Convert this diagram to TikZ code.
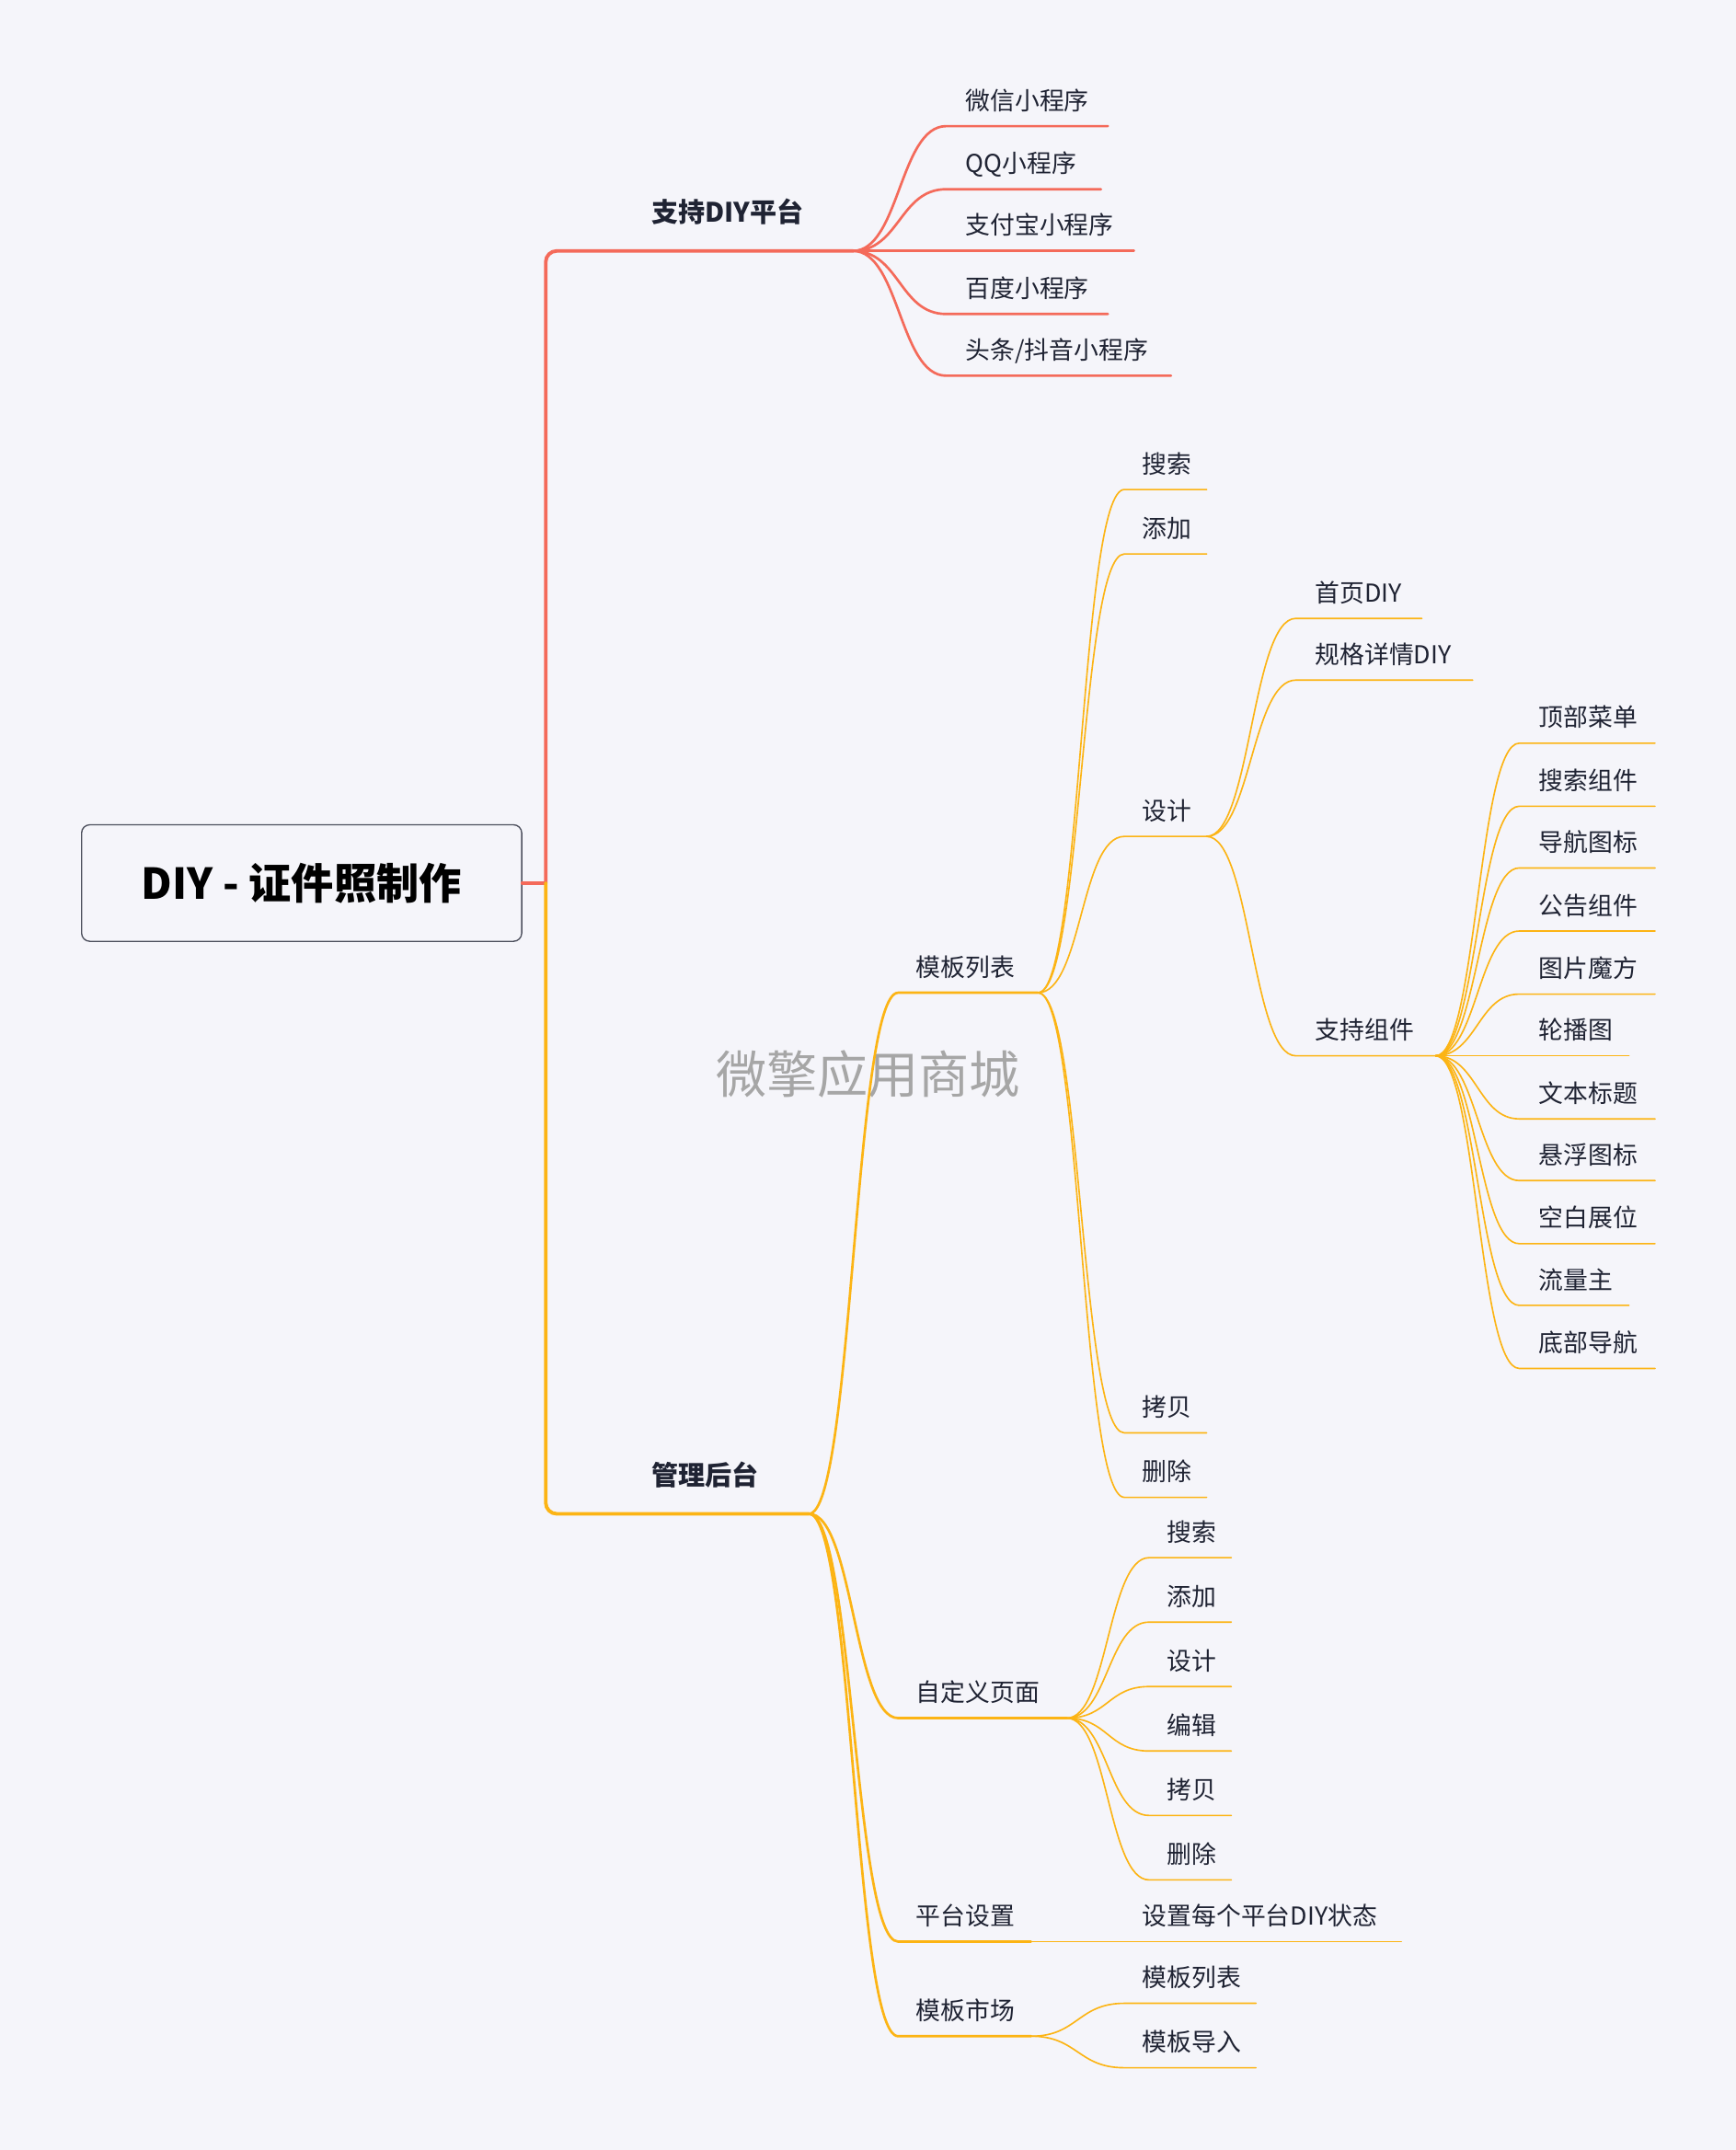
\documentclass[tikz,border=0pt]{standalone}
\usepackage{fontspec}
\setmainfont{Noto Sans CJK SC}
\usetikzlibrary{calc}
\begin{document}
\definecolor{bg}{HTML}{F5F5FA}
\definecolor{rd}{HTML}{F46A5A}
\definecolor{og}{HTML}{FCB414}
\definecolor{tx}{HTML}{1F2333}
\begin{tikzpicture}[x=1pt,y=-1pt,
  lbl/.style={anchor=base west,inner sep=0pt,font=\fontsize{18}{20}\selectfont,text=tx},
  blbl/.style={anchor=base west,inner sep=0pt,font=\fontsize{19.5}{22}\selectfont\bfseries,text=tx},
  l1/.style={line width=2.6pt,line cap=round},
  l2/.style={line width=1.8pt,line cap=round},
  l3/.style={line width=1.1pt,line cap=round}]
\fill[bg] (0,0) rectangle (1266,1568);
\useasboundingbox (0,0) rectangle (1266,1568);
\node[text=black!35,font=\fontsize{37}{40}\selectfont] (wm) at (633,783) {微擎应用商城};
% root
\node[draw=tx!80,fill=bg,rounded corners=6pt,line width=0.9pt,minimum width=321pt,minimum height=85pt,font=\fontsize{31}{34}\selectfont\bfseries,text=black] (root) at (220,644) {DIY - 证件照制作};
\coordinate (rj) at (398,644);
\coordinate (a1) at (622,183); \coordinate (b1) at (590,1104);
\draw[rd,l1] (root.east) -- (rj);
\draw[rd,l1,rounded corners=8pt] (rj) -- (398,183) -- (a1);
\draw[og,l1,rounded corners=8pt] (rj) -- (398,1104) -- (b1);
\node[blbl] (t1) at (475,162) {支持DIY平台};
\node[blbl] (t2) at (475,1083) {管理后台};
% platform children
\foreach \y/\e/\t [count=\i] in {92/808/微信小程序,138/803/QQ小程序,183/827/支付宝小程序,229/808/百度小程序,274/854/{头条/抖音小程序}}{
  \coordinate (ps\i) at (690,\y); \coordinate (pe\i) at (\e,\y);
  \draw[rd,l2] (a1) .. controls ($(a1)+(34,0)$) and ($(ps\i)-(34,0)$) .. (ps\i) -- (pe\i);
  \node[lbl] (pt\i) at (704,\y-12) {\t};
}
% manage children
\foreach \y/\e/\t/\n in {724/757/模板列表/m1,1253/778/自定义页面/m2,1416/752/平台设置/m3,1485/752/模板市场/m4}{
  \coordinate (\n s) at (655,\y); \coordinate (\n) at (\e,\y);
  \draw[og,l2] (b1) .. controls ($(b1)+(32,0)$) and ($(\n s)-(32,0)$) .. (\n s) -- (\n);
  \node[lbl] (\n t) at (668,\y-12) {\t};
}
% 模板列表 children
\foreach \y/\t [count=\i] in {357/搜索,404/添加,610/设计,1045/拷贝,1092/删除}{
  \coordinate (ls\i) at (820,\y); \coordinate (le\i) at (880,\y);
  \draw[og,l3] (m1) .. controls ($(m1)+(32,0)$) and ($(ls\i)-(32,0)$) .. (ls\i) -- (le\i);
  \node[lbl] (lt\i) at (833,\y-12) {\t};
}
% 设计 children
\foreach \y/\e/\t [count=\i] in {451/1037/首页DIY,496/1074/规格详情DIY,770/1047/支持组件}{
  \coordinate (ds\i) at (945,\y); \coordinate (de\i) at (\e,\y);
  \draw[og,l3] (le3) .. controls ($(le3)+(32,0)$) and ($(ds\i)-(32,0)$) .. (ds\i) -- (de\i);
  \node[lbl] (dt\i) at (959,\y-12) {\t};
}
% 支持组件 children
\foreach \y/\e/\t [count=\i] in {542/1207/顶部菜单,588/1207/搜索组件,633/1207/导航图标,679/1207/公告组件,725/1207/图片魔方,770/1188/轮播图,816/1207/文本标题,861/1207/悬浮图标,907/1207/空白展位,952/1188/流量主,998/1207/底部导航}{
  \coordinate (cs\i) at (1108,\y); \coordinate (ce\i) at (\e,\y);
  \draw[og,l3] (de3) .. controls ($(de3)+(30,0)$) and ($(cs\i)-(30,0)$) .. (cs\i) -- (ce\i);
  \node[lbl] (ct\i) at (1122,\y-12) {\t};
}
% 自定义页面 children
\foreach \y/\t [count=\i] in {1136/搜索,1183/添加,1230/设计,1277/编辑,1324/拷贝,1371/删除}{
  \coordinate (zs\i) at (838,\y); \coordinate (ze\i) at (898,\y);
  \draw[og,l3] (m2) .. controls ($(m2)+(30,0)$) and ($(zs\i)-(30,0)$) .. (zs\i) -- (ze\i);
  \node[lbl] (zt\i) at (851,\y-12) {\t};
}
% 平台设置 child
\coordinate (se) at (1022,1416);
\draw[og,l3] (m3) -- (se);
\node[lbl] (st) at (833,1404) {设置每个平台DIY状态};
% 模板市场 children
\foreach \y/\t [count=\i] in {1461/模板列表,1508/模板导入}{
  \coordinate (ks\i) at (820,\y); \coordinate (ke\i) at (916,\y);
  \draw[og,l3] (m4) .. controls ($(m4)+(34,0)$) and ($(ks\i)-(34,0)$) .. (ks\i) -- (ke\i);
  \node[lbl] (kt\i) at (833,\y-12) {\t};
}
\end{tikzpicture}
\end{document}
